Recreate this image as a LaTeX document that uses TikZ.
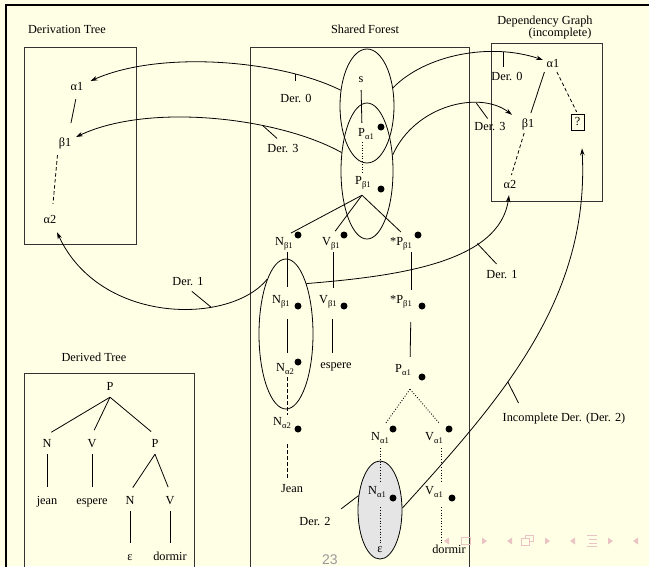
\documentclass[tikz,border=0pt]{standalone}
\usepackage{fontspec}
\setmainfont{Liberation Serif}
\newfontfamily\pagenofont{Liberation Sans}
\usetikzlibrary{shapes.geometric,arrows.meta}
\definecolor{bgc}{RGB}{255,255,230}
\definecolor{navc}{RGB}{234,196,196}
\newcommand\mysub[1]{\raisebox{-3pt}{\fontsize{8.6pt}{9pt}\selectfont #1}}
\begin{document}
\begin{tikzpicture}[x=1pt,y=-1pt,
 lbl/.style={anchor=base,inner sep=0pt,text height=8pt,text depth=3pt,font=\fontsize{12.3pt}{14pt}\selectfont},
 dnode/.style={lbl,inner ysep=4pt},
 boxl/.style={draw=black!80,line width=0.9pt},
 ln/.style={line width=0.8pt},
 dsh/.style={line width=0.8pt,dash pattern=on 3.5pt off 2.5pt},
 dtt/.style={line width=0.9pt,dash pattern=on 0.9pt off 1.8pt},
 arr/.style={line width=0.8pt,-{Stealth[length=7pt,width=4.5pt]}},
 ell/.style={ellipse,draw,line width=0.8pt,inner sep=0pt},
 bdot/.style={circle,fill=black,inner sep=0pt,minimum size=7pt},
 nav/.style={fill=navc,draw=none},
 navl/.style={draw=navc,line width=0.9pt},
]
\useasboundingbox (0,0) rectangle (649,566);
\fill[bgc] (0,0) rectangle (649,566);
\draw[line width=2.6pt] (6,570) -- (6,5) -- (652,5);

% frames
\draw[boxl] (24,47) rectangle (136,244);
\draw[boxl] (250,575) -- (250,47) -- (469,47) -- (469,575);
\draw[boxl] (491,43) rectangle (602,201);
\draw[boxl] (24,575) -- (24,373) -- (194,373) -- (194,575);

% titles
\node[lbl] (tdt) at (67,33) {Derivation Tree};
\node[lbl] (tsf) at (365,33) {Shared Forest};
\node[lbl] (tdg) at (545,24) {Dependency Graph};
\node[lbl] (tinc) at (560,36) {(incomplete)};
\node[lbl] (tdd) at (94,361) {Derived Tree};

% ellipses
\node[ell,minimum width=54pt,minimum height=114pt] (e1) at (367,106) {};
\node[ell,minimum width=52pt,minimum height=136pt] (e2) at (367,171) {};
\node[ell,minimum width=54pt,minimum height=150pt] (e3) at (286,334) {};
\node[ell,fill=black!10,minimum width=44pt,minimum height=98pt] (e4) at (380,510) {};

% derivation tree
\node[lbl] (ta1) at (77,90) {α1};
\node[lbl] (tb1) at (65,146) {β1};
\node[lbl] (ta2) at (50,223) {α2};
\draw[ln,shorten <=6pt,shorten >=15pt] (ta1.south) -- ([xshift=3pt]tb1.north);
\draw[dsh,shorten <=6pt,shorten >=11pt] ([xshift=-7pt]tb1.south) -- ([xshift=2pt]ta2.north);

% dependency graph
\node[lbl] (ga1) at (553,67) {α1};
\node[lbl] (gb1) at (528,127) {β1};
\node[lbl] (ga2) at (510,188) {α2};
\node[draw,line width=0.7pt,minimum width=13pt,minimum height=16pt,inner sep=0pt,font=\fontsize{12.3pt}{14pt}\selectfont] (gq) at (577.5,122) {?};
\draw[ln,shorten <=2pt,shorten >=6pt] ([xshift=-8pt]ga1.south) -- ([xshift=1pt]gb1.north);
\draw[dsh,shorten <=2pt,shorten >=2pt] ([xshift=3pt]ga1.south) -- (gq.north);
\draw[dsh,shorten <=3pt,shorten >=5pt] ([xshift=-3pt]gb1.south) -- (ga2.north);

% shared forest labels
\node[lbl] (fs) at (361,82) {s};
\node[lbl] (fpa) at (366,136) {P\mysub{α1}};
\node[lbl] (fpb) at (363,184) {P\mysub{β1}};
\node[lbl] (r1n) at (284,245) {N\mysub{β1}};
\node[lbl] (r1v) at (331,245) {V\mysub{β1}};
\node[lbl] (r1p) at (401,245) {*P\mysub{β1}};
\node[lbl] (r2n) at (281,303) {N\mysub{β1}};
\node[lbl] (r2v) at (328,303) {V\mysub{β1}};
\node[lbl] (r2p) at (401,303) {*P\mysub{β1}};
\node[lbl] (r3n) at (285,371) {N\mysub{α2}};
\node[lbl] (r3e) at (336,368) {espere};
\node[lbl] (r3p) at (403,372) {P\mysub{α1}};
\node[lbl] (r4n) at (282,425) {N\mysub{α2}};
\node[lbl] (r4a) at (380,440) {N\mysub{α1}};
\node[lbl] (r4v) at (434,440) {V\mysub{α1}};
\node[lbl] (r5j) at (292,492) {Jean};
\node[lbl] (r5a) at (377,494) {N\mysub{α1}};
\node[lbl] (r5v) at (434,494) {V\mysub{α1}};
\node[lbl] (r6e) at (380,552) {ε};
\node[lbl] (r6d) at (449,553) {dormir};

% dots
\foreach \n/\x/\y in {k1/381/127,k2/381/189,k3/298/235,k4/344/235,k5/418/235,k6/298/306,k7/344/306,k8/422/306,k9/298/362,k10/422/377,k11/298/429,k12/393/429,k13/449/429,k14/393/498,k15/452/498}
  \node[bdot] (\n) at (\x,\y) {};

% shared forest edges
\draw[ln,shorten <=5pt,shorten >=5pt] (fs.south) -- ([xshift=-4pt]fpa.north);
\draw[dtt,shorten <=3pt,shorten >=3pt] ([xshift=-4pt]fpa.south) -- ([xshift=-1pt]fpb.north);
\coordinate (fork) at ([shift={(-1,8)}]fpb.south);
\draw[ln,shorten >=8pt] (fork) -- (r1n.north);
\draw[ln,shorten >=7pt] (fork) -- (r1v.north);
\draw[ln,shorten >=7pt] (fork) -- ([xshift=5pt]r1p.north);
\draw[ln,shorten <=4pt,shorten >=8pt] ([xshift=3pt]r1n.south) -- ([xshift=6pt]r2n.north);
\draw[ln,shorten <=4pt,shorten >=7pt] ([xshift=2pt]r1v.south) -- ([xshift=5pt]r2v.north);
\draw[ln,shorten <=4pt,shorten >=5pt] ([xshift=-1pt]r1p.south east) -- ([xshift=-1pt]r2p.north east);
\draw[ln,shorten <=13pt,shorten >=10pt] ([xshift=6pt]r2n.south) -- ([xshift=2pt]r3n.north);
\draw[ln,shorten <=13pt,shorten >=7pt] ([xshift=4pt]r2v.south) -- ([xshift=-4pt]r3e.north);
\draw[ln,shorten <=16pt,shorten >=7pt] ([xshift=-1pt]r2p.south east) -- ([xshift=-1pt]r3p.north east);
\draw[dsh,shorten <=3pt,shorten >=2pt] ([xshift=2pt]r3n.south) -- ([xshift=5pt]r4n.north);
\draw[dsh,shorten <=16pt,shorten >=4pt] ([xshift=5pt]r4n.south) -- ([xshift=-5pt]r5j.north);
\coordinate (apex) at ([shift={(-1,14)}]r3p.south east);
\draw[dtt] (apex) -- ([shift={(6,-9)}]r4a.north);
\draw[dtt] (apex) -- ([shift={(5,-9)}]r4v.north);
\draw[dtt,shorten <=5pt,shorten >=4pt] (r4a.south) -- ([xshift=3pt]r5a.north);
\draw[dtt,shorten <=5pt,shorten >=4pt] ([xshift=7pt]r4v.south) -- ([xshift=7pt]r5v.north);
\draw[dtt,shorten <=10pt,shorten >=1pt] ([xshift=3pt]r5a.south) -- (r6e.north);
\draw[dtt,shorten <=10pt,shorten >=2pt] ([xshift=7pt]r5v.south) -- ([xshift=-8pt]r6d.north);

% derived tree
\node[dnode] (dP) at (110,390) {P};
\node[dnode] (dN) at (47,447) {N};
\node[dnode] (dV) at (92,447) {V};
\node[dnode] (dP2) at (155,447) {P};
\node[dnode] (dj) at (47,504) {jean};
\node[dnode] (de) at (92,504) {espere};
\node[dnode] (dN2) at (130,504) {N};
\node[dnode] (dV2) at (170,504) {V};
\node[dnode] (deps) at (130,560) {ε};
\node[dnode] (ddor) at (170,560) {dormir};
\draw[ln,shorten >=5pt] (dP.south) -- (dN.north);
\draw[ln,shorten >=5pt] (dP.south) -- (dV.north);
\draw[ln,shorten >=5pt] (dP.south) -- (dP2.north);
\draw[ln,shorten >=5pt] (dN.south) -- (dj.north);
\draw[ln,shorten >=5pt] (dV.south) -- (de.north);
\draw[ln,shorten >=5pt] (dP2.south) -- (dN2.north);
\draw[ln,shorten >=5pt] (dP2.south) -- (dV2.north);
\draw[ln,shorten >=5pt] (dN2.south) -- (deps.north);
\draw[ln,shorten >=5pt] (dV2.south) -- (ddor.north);

% derivation labels
\node[lbl] (l0l) at (296,102) {Der. 0};
\node[lbl] (l0r) at (507,80) {Der. 0};
\node[lbl] (l3l) at (283,152) {Der. 3};
\node[lbl] (l3r) at (490,130) {Der. 3};
\node[lbl] (l1l) at (188,285) {Der. 1};
\node[lbl] (l1r) at (502,278) {Der. 1};
\node[lbl] (l2) at (315,525) {Der. 2};
\node[lbl] (linc) at (564,421) {Incomplete Der. (Der. 2)};

% derivation curves
\draw[arr] (e1.149) .. controls (280,60) and (160,50) .. ([shift={(7,-6.5)}]ta1.east) coordinate[pos=0.21] (c0l);
\draw[arr] (e1.35) .. controls (425,55) and (490,42) .. ([shift={(-3.5,-4.5)}]ga1.west) coordinate[pos=0.76] (c0r);
\draw[arr] (e2.144) .. controls (280,118) and (150,102) .. ([shift={(4.6,-6.5)}]tb1.east) coordinate[pos=0.33] (c3l);
\draw[arr] (e2.32) .. controls (415,105) and (480,90) .. ([shift={(-9.6,-4)}]gb1.north west) coordinate[pos=0.7] (c3r);
\draw[arr] (e3.109) .. controls (230,325) and (100,325) .. ([shift={(7,6)}]ta2.south) coordinate[pos=0.31] (c1l);
\draw[arr] (e3.68) .. controls (400,276) and (500,262) .. ([shift={(-1,4)}]ga2.south) coordinate[pos=0.69] (c1r);
\draw[arr] (e4.5) .. controls (500,400) and (590,300) .. ([shift={(4.5,18)}]gq.south) coordinate[pos=0.39] (ci);

% ticks
\draw[ln,shorten >=13pt] (c0l) -- (c0l |- l0l.north);
\draw[ln,shorten >=5pt] (c0r) -- (c0r |- l0r.north);
\draw[ln,shorten >=8pt] (c3l) -- (l3l.north);
\draw[ln,shorten >=4pt] (c3r) -- (l3r.north);
\draw[ln,shorten >=5pt] (c1l) -- (l1l.south);
\draw[ln,shorten >=8pt] (c1r) -- (l1r.north);
\draw[ln,shorten >=11pt] (ci) -- ([xshift=21pt]linc.north west);
\draw[ln,shorten <=13pt] (l2.north east) -- (e4.146);

% page number and navigation symbols
\node[anchor=base,inner sep=0pt,font=\pagenofont\fontsize{14pt}{16pt}\selectfont,text=black!40] (pgno) at (330,564) {23};
\fill[nav] (444,541) -- (449,537.5) -- (449,544.5) -- cycle;
\draw[navl] (461.5,537.5) rectangle (470.5,544.5);
\fill[nav] (487,541) -- (482,537.5) -- (482,544.5) -- cycle;
\fill[nav] (507,541) -- (512,537.5) -- (512,544.5) -- cycle;
\draw[navl] (525,535.5) rectangle (533,541.5);
\fill[bgc] (521.5,538.5) rectangle (529.5,545);
\draw[navl] (521.5,538.5) rectangle (529.5,545);
\fill[nav] (550,541) -- (545,537.5) -- (545,544.5) -- cycle;
\fill[nav] (570,541) -- (575,537.5) -- (575,544.5) -- cycle;
\draw[navl] (587,535.5) -- (597,535.5);
\draw[navl] (589,539.5) -- (597,539.5);
\draw[navl] (589,543) -- (597,543);
\draw[navl] (587,546.5) -- (597,546.5);
\fill[nav] (613,541) -- (608,537.5) -- (608,544.5) -- cycle;
\fill[nav] (633,541) -- (638,537.5) -- (638,544.5) -- cycle;
\end{tikzpicture}
\end{document}
